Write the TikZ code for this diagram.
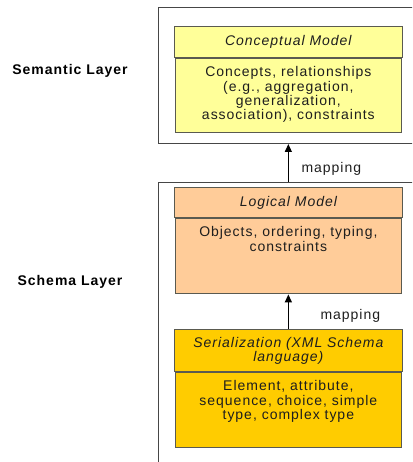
\documentclass[tikz,border=0pt]{standalone}
\usepackage{fontspec}
\setmainfont{Liberation Sans}[LetterSpace=7]
\usetikzlibrary{arrows.meta}

\definecolor{concfill}{RGB}{255,255,153}
\definecolor{logfill}{RGB}{255,204,153}
\definecolor{serfill}{RGB}{255,204,0}
\definecolor{boxline}{RGB}{90,90,80}
\definecolor{layerline}{RGB}{70,70,70}
\definecolor{inktext}{RGB}{30,30,30}

\tikzset{
  layerframe/.style={draw=layerline, line width=1pt, anchor=north west,
    inner sep=0pt, minimum width=262pt},
  classhead/.style={draw=boxline, line width=1.2pt, anchor=north west,
    inner sep=0pt, minimum width=227.5pt, align=center, text=inktext},
  classbody/.style={draw=boxline, line width=1.2pt, anchor=north,
    inner sep=0pt, text=inktext},
  layerlabel/.style={anchor=base, font=\fontsize{14}{14.3}\selectfont\bfseries, text=black},
  maplabel/.style={anchor=base west, text=inktext},
  maparrow/.style={line width=1.3pt, -{Triangle[width=7pt,length=8pt]}},
}

% body text of a class box: fixed height, lines hanging from the top
\newcommand{\classtext}[2]{\parbox[t][#1][t]{226pt}{\centering\rule{0pt}{18pt}#2}}

\begin{document}
\begin{tikzpicture}[x=1pt, y=-1pt, font=\fontsize{14}{14.3}\selectfont]
\useasboundingbox (0,0) rectangle (412,462);
\clip (0,0) rectangle (412,462);

% layer frames (they run past the right and bottom edges)
\node[layerframe, minimum height=136pt] (sem) at (158,7) {};
\node[layerframe, minimum height=300pt] (sch) at (158,182) {};

\node[layerlabel] (semlbl) at (70,75) {Semantic Layer};
\node[layerlabel] (schlbl) at (70,285) {Schema Layer};

% conceptual model
\node[classhead, fill=concfill, minimum height=31pt] (cmh) at (174,26)
  {\itshape Conceptual Model};
\node[classbody, fill=concfill] (cmb) at (cmh.south)
  {\classtext{74pt}{Concepts, relationships\\(e.g., aggregation,\\generalization,\\association), constraints}};

% logical model
\node[classhead, fill=logfill, minimum height=30pt] (lmh) at (174,187)
  {\itshape Logical Model};
\node[classbody, fill=logfill] (lmb) at (lmh.south)
  {\classtext{75pt}{Objects, ordering, typing,\\constraints}};

% serialization
\node[classhead, fill=serfill, minimum height=42pt, text width=227pt,
      font=\fontsize{14}{13.8}\selectfont] (srh) at (174,329)
  {\itshape Serialization (XML Schema\\language)};
\node[classbody, fill=serfill] (srb) at (srh.south)
  {\classtext{75pt}{Element, attribute,\\sequence, choice, simple\\type, complex type}};

% mappings
\draw[maparrow] (cmb.south |- sch.north) -- (cmb.south |- sem.south);
\draw[maparrow] (srh.north) -- (lmb.south);

\node[maplabel] (map1) at (298,173) {mapping};
\node[maplabel] (map2) at (317,319.5) {mapping};
\end{tikzpicture}
\end{document}
